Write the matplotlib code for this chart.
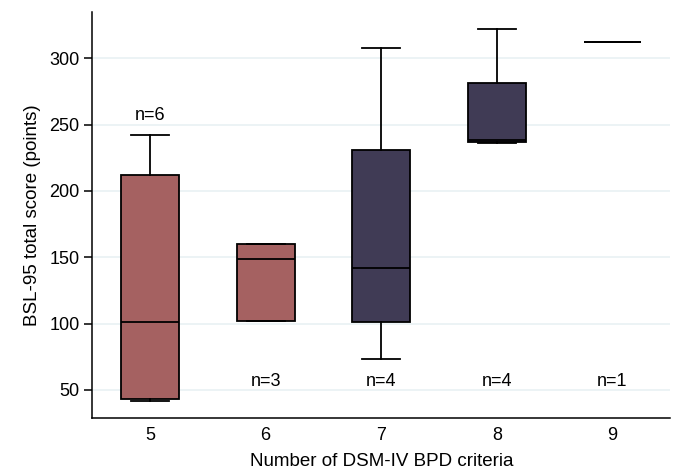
import matplotlib
matplotlib.use('Agg')
import matplotlib.pyplot as plt

plt.rcParams['font.family'] = ['Liberation Sans', 'DejaVu Sans']

# Data
criteria = [5, 6, 7, 8, 9]
q1 = [43, 102, 101, 237, 312]
med = [101, 149, 142, 238, 312]
q3 = [212, 160, 231, 281, 312]
whislo = [42, 102, 73, 236, 312]
whishi = [242, 160, 308, 322, 312]
n_labels = ['n=6', 'n=3', 'n=4', 'n=4', 'n=1']
n_label_y = [257, 56, 56, 56, 56]
colors = ['#a56161', '#a56161', '#403b55', '#403b55', '#403b55']

stats = []
for i in range(len(criteria)):
    stats.append({'med': med[i], 'q1': q1[i], 'q3': q3[i],
                  'whislo': whislo[i], 'whishi': whishi[i], 'fliers': []})

fig = plt.figure(figsize=(6.73, 4.71), dpi=100)
ax = fig.add_axes([0.137, 0.113, 0.859, 0.862])

lw = 1.3
bp = ax.bxp(stats, positions=criteria, widths=0.5, patch_artist=True,
            showfliers=False, capwidths=0.33,
            boxprops={'edgecolor': 'black', 'linewidth': lw},
            medianprops={'color': 'black', 'linewidth': lw},
            whiskerprops={'color': 'black', 'linewidth': lw},
            capprops={'color': 'black', 'linewidth': lw})
for patch, c in zip(bp['boxes'], colors):
    patch.set_facecolor(c)

for x, t, y in zip(criteria, n_labels, n_label_y):
    ax.text(x, y, t, ha='center', va='center', fontsize=13)

ax.set_xlim(4.5, 9.5)
ax.set_ylim(29, 335)
ax.set_yticks([50, 100, 150, 200, 250, 300])
ax.set_xticks(criteria)
ax.set_xticklabels([str(c) for c in criteria])
ax.yaxis.grid(True, color='#e9f1f3', linewidth=1.2)
ax.set_axisbelow(True)

for s in ['top', 'right']:
    ax.spines[s].set_visible(False)
for s in ['left', 'bottom']:
    ax.spines[s].set_linewidth(1.1)

ax.tick_params(axis='y', length=6, width=1.1, labelsize=13, pad=3)
ax.tick_params(axis='x', length=0, labelsize=13, pad=7)
ax.set_xlabel('Number of DSM-IV BPD criteria', fontsize=13.5, labelpad=6)
ax.set_ylabel('BSL-95 total score (points)', fontsize=13.5, labelpad=6)

fig.savefig('out.png', dpi=100)
